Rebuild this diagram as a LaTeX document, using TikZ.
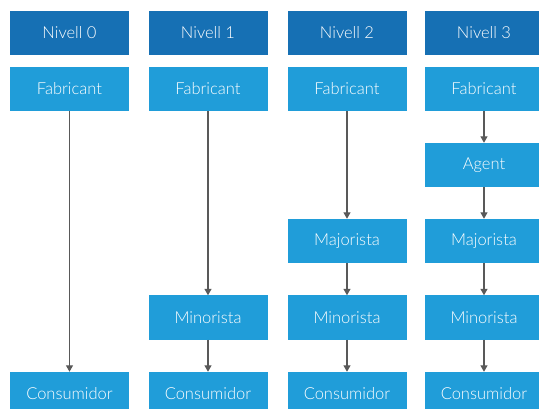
\documentclass[tikz,border=0pt]{standalone}
\usepackage{fontspec}
\setmainfont{Lato Light}
\usetikzlibrary{arrows.meta}
\definecolor{headblue}{HTML}{1670B4}
\definecolor{boxblue}{HTML}{209DD9}
\definecolor{arrowgray}{HTML}{595959}
\begin{document}
\begin{tikzpicture}[x=1pt,y=-1pt,
  cell/.style={minimum width=119pt,minimum height=44pt,inner sep=0pt,
    text=white,font=\fontsize{16.5}{18}\selectfont},
  head/.style={cell,fill=headblue},
  stage/.style={cell,fill=boxblue},
  flow/.style={draw=arrowgray,line width=1.2pt,
    -{Triangle[length=6.5pt,width=7pt]}}]
\useasboundingbox (0,0) rectangle (539,409);
\clip (0,0) rectangle (539,409);
% column headers
\node[head] (h0) at (69.5,33) {Nivell 0};
\node[head] (h1) at (208,33) {Nivell 1};
\node[head] (h2) at (347,33) {Nivell 2};
\node[head] (h3) at (484,33) {Nivell 3};
% level 0
\node[stage] (f0) at (69.5,89) {Fabricant};
\node[stage] (c0) at (69.5,394) {Consumidor};
% level 1
\node[stage] (f1) at (208,89) {Fabricant};
\node[stage] (m1) at (208,317.5) {Minorista};
\node[stage] (c1) at (208,394) {Consumidor};
% level 2
\node[stage] (f2) at (347,89) {Fabricant};
\node[stage] (j2) at (347,241) {Majorista};
\node[stage] (m2) at (347,317.5) {Minorista};
\node[stage] (c2) at (347,394) {Consumidor};
% level 3
\node[stage] (f3) at (484,89) {Fabricant};
\node[stage] (a3) at (484,165) {Agent};
\node[stage] (j3) at (484,241) {Majorista};
\node[stage] (m3) at (484,317.5) {Minorista};
\node[stage] (c3) at (484,394) {Consumidor};
% distribution chains
\draw[flow] (f0) -- (c0);
\draw[flow] (f1) -- (m1);
\draw[flow] (m1) -- (c1);
\draw[flow] (f2) -- (j2);
\draw[flow] (j2) -- (m2);
\draw[flow] (m2) -- (c2);
\draw[flow] (f3) -- (a3);
\draw[flow] (a3) -- (j3);
\draw[flow] (j3) -- (m3);
\draw[flow] (m3) -- (c3);
\end{tikzpicture}
\end{document}
